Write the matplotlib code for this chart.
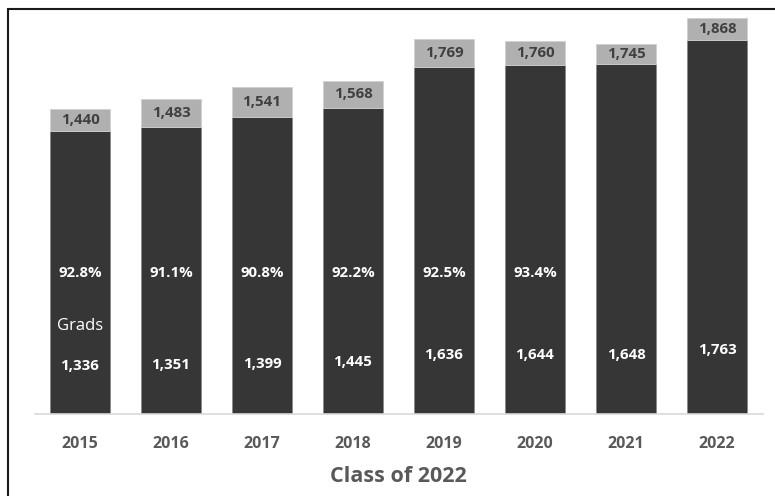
import matplotlib
matplotlib.use("Agg")
import matplotlib.pyplot as plt
from matplotlib.patches import Rectangle

years = ["2015", "2016", "2017", "2018", "2019", "2020", "2021", "2022"]
grads = [1336, 1351, 1399, 1445, 1636, 1644, 1648, 1763]
totals = [1440, 1483, 1541, 1568, 1769, 1760, 1745, 1868]
pct_labels = ["92.8%", "91.1%", "90.8%", "92.2%", "92.5%", "93.4%", "", ""]
xlabel_text = "Class of 2022"
series_label = "Grads"

plt.rcParams['font.family'] = ['Open Sans', 'DejaVu Sans']

fig = plt.figure(figsize=(7.75, 4.96), dpi=100)
W, H = 775, 496
ax = fig.add_axes([34.5 / W, (H - 414) / H, 728 / W, 403 / H])

x = list(range(len(years)))
rest = [t - g for t, g in zip(totals, grads)]
bw = 0.65
ax.bar(x, grads, width=bw, color="#363636", edgecolor="#8a8a8a", linewidth=0.6)
ax.bar(x, rest, bottom=grads, width=bw, color="#b0b0b0", edgecolor="#d0d0d0", linewidth=0.6)

ax.set_xlim(-0.5, len(years) - 0.5)
ax.set_ylim(0, 1900)

fs = 10.8
for i in x:
    ax.text(i, grads[i] + rest[i] / 2, f"{totals[i]:,}", ha="center", va="center",
            fontsize=fs, fontweight="bold", color="#404040")
    ax.text(i, grads[i] * 0.17, f"{grads[i]:,}", ha="center", va="center",
            fontsize=fs, fontweight="bold", color="white")
    if pct_labels[i]:
        ax.text(i, 665, pct_labels[i], ha="center", va="center",
                fontsize=fs, fontweight="bold", color="white")

ax.text(0, 415, series_label, ha="center", va="center", fontsize=12, color="white")

ax.set_xticks(x)
ax.set_xticklabels(years, fontsize=11.5, fontweight="bold", color="#595959")
ax.tick_params(axis="x", length=0, pad=16)
ax.set_yticks([])
for s in ["top", "right", "left"]:
    ax.spines[s].set_visible(False)
ax.spines["bottom"].set_color("#d9d9d9")
ax.spines["bottom"].set_linewidth(1.2)
ax.set_xlabel(xlabel_text, fontsize=15.5, fontweight="bold", color="#595959", labelpad=10)

# figure border (cropped at right/bottom)
border = Rectangle((8 / W, -0.1), 1.2, (H - 9) / H + 0.1, transform=fig.transFigure,
                   fill=False, edgecolor="#1a1a1a", linewidth=1.5, clip_on=False)
fig.patches.append(border)

fig.savefig("out.png", dpi=100, facecolor="white")
